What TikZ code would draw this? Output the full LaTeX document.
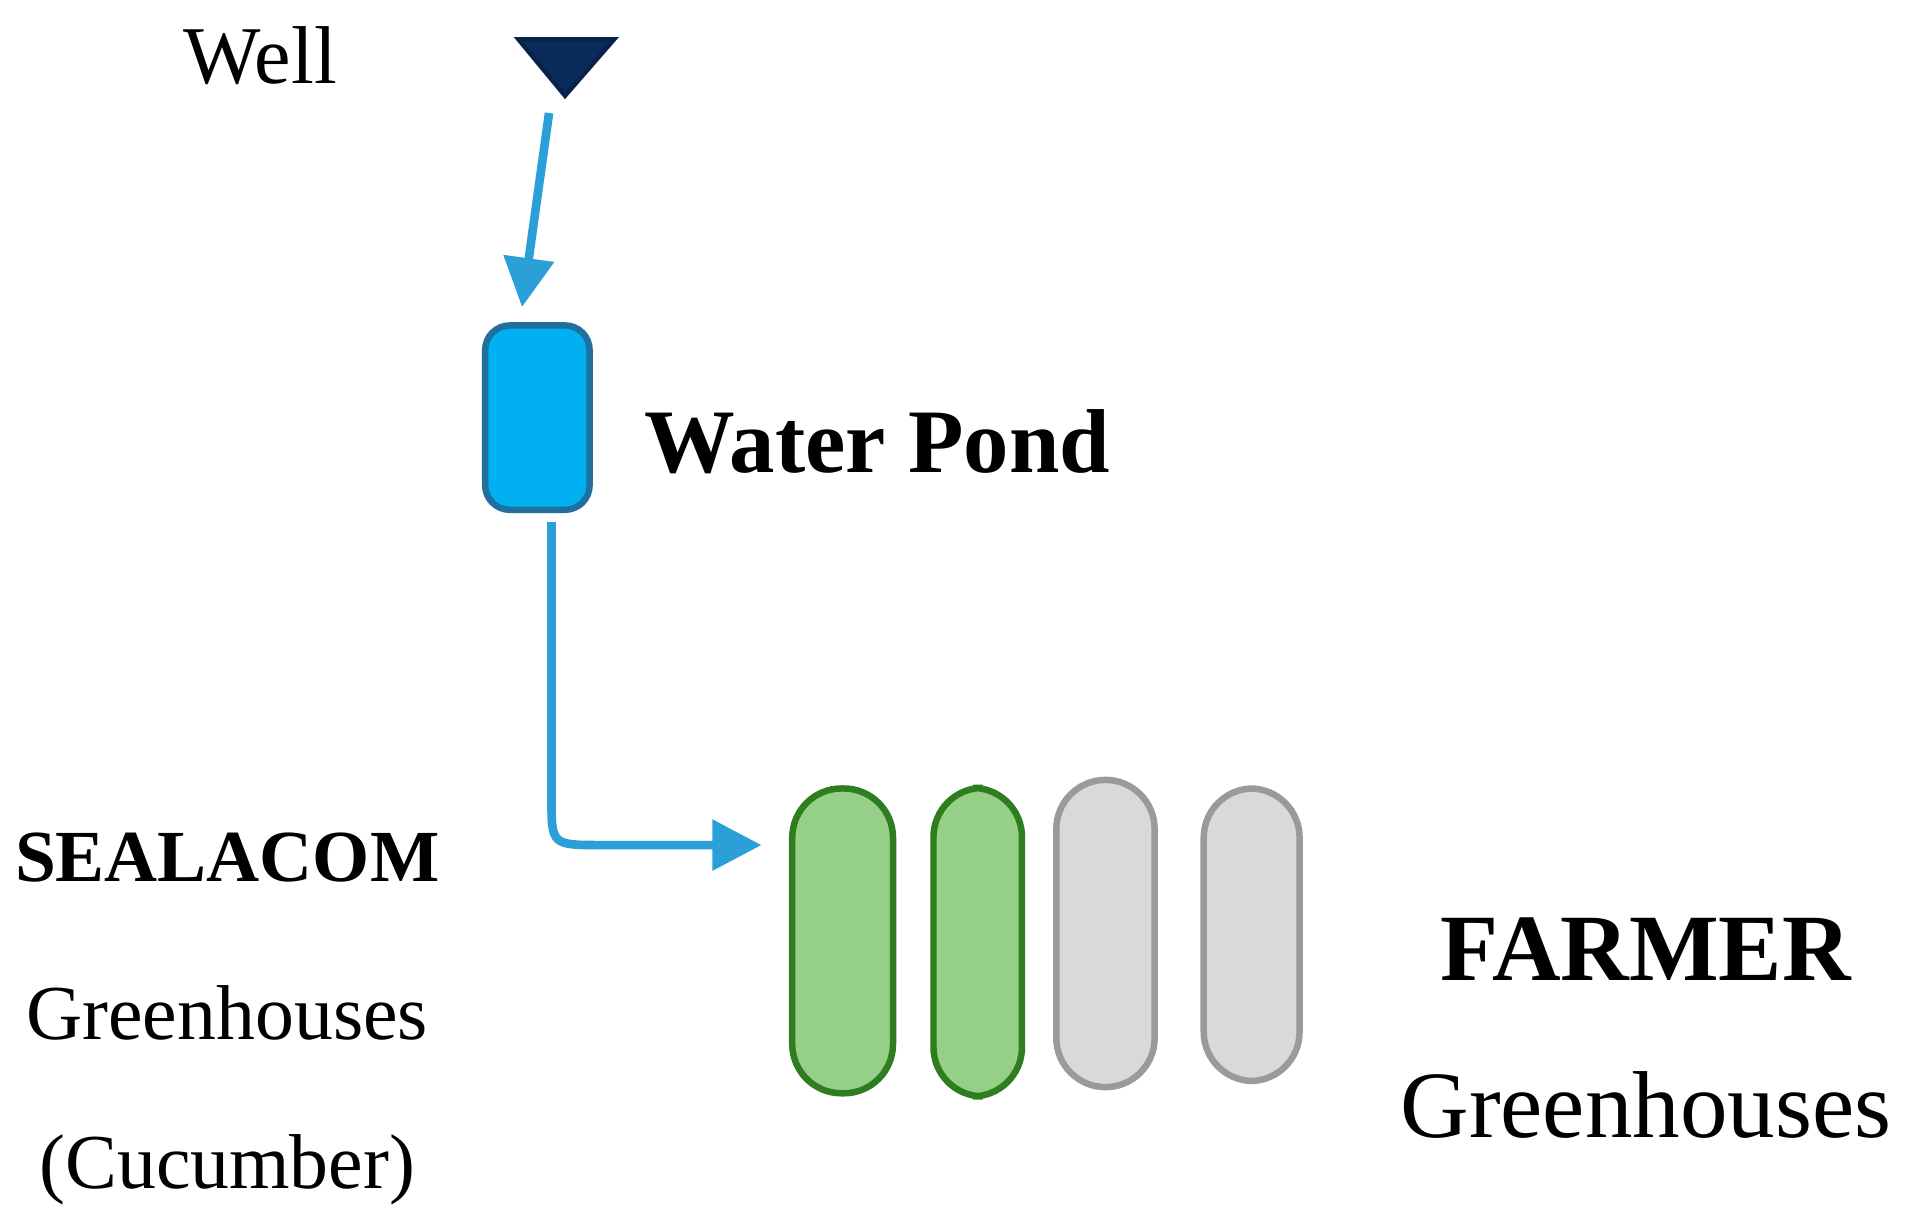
\documentclass[tikz,border=0pt]{standalone}
\usepackage{fontspec}
\setmainfont{Liberation Serif}
\usetikzlibrary{arrows.meta}
\definecolor{flowblue}{HTML}{2A9FD8}
\definecolor{pondblue}{HTML}{00B0F0}
\definecolor{pondedge}{HTML}{1F6F9F}
\definecolor{wellnavy}{HTML}{0B2A5C}
\definecolor{housegreen}{HTML}{96CF88}
\definecolor{greenedge}{HTML}{2E7D1F}
\definecolor{housegray}{HTML}{D9D9D9}
\definecolor{grayedge}{HTML}{9A9A9A}
\tikzset{
  flow/.style={flowblue, line width=2pt, -{Triangle[length=4mm,width=4mm]}},
  house/.style={rounded corners=4mm, line width=1.5pt},
  label/.style={font=\fontsize{18}{20}\selectfont},
}
\begin{document}
\begin{tikzpicture}[x=0.01cm,y=-0.01cm]
    \useasboundingbox (0,0) rectangle (1568,991);

    % Well and pond
    \node[font=\fontsize{19}{22}\selectfont] (well) at (212,45) {Well};
    \draw[fill=wellnavy, draw=wellnavy!80!black, line width=1pt]
        (422,32) -- (500,32) -- (460,78) -- cycle;
    \coordinate (wellout) at (447,92);
    \coordinate (pondin) at (425,250);
    \node[draw=pondedge, fill=pondblue, line width=1.5pt, rounded corners=2mm,
          minimum width=0.85cm, minimum height=1.5cm, inner sep=0pt] (pond) at (437.5,340) {};
    \node[anchor=west, font=\bfseries\fontsize{21}{26}\selectfont] (pondlabel) at (512,360) {Water Pond};
    \draw[flow] (wellout) -- (pondin);

    % Greenhouses
    \node[house, draw=greenedge, fill=housegreen, minimum width=0.82cm, minimum height=2.48cm] (g1) at (686,766) {};
    \node[house, draw=greenedge, fill=housegreen, minimum width=0.72cm, minimum height=2.51cm] (g2) at (796,767) {};
    \node[house, draw=grayedge, fill=housegray, minimum width=0.80cm, minimum height=2.50cm] (g3) at (900,760) {};
    \node[house, draw=grayedge, fill=housegray, minimum width=0.78cm, minimum height=2.38cm] (g4) at (1019,761) {};
    \coordinate (pondout) at (449,425);
    \coordinate (bend) at (449,650);
    \coordinate (housein) at (620,688);
    \draw[flow] (pondout) -- (bend) .. controls (449,688) .. (490,688) -- (housein);

    % Labels
    \node[font=\bfseries\fontsize{17}{20}\selectfont] (sealacom) at (185,698) {SEALACOM};
    \node[label] (sgh) at (185,825) {Greenhouses};
    \node[label] (cuc) at (185,952) {(Cucumber)};
    \node[font=\bfseries\fontsize{22}{26}\selectfont] (farmer) at (1340,773) {FARMER};
    \node[font=\fontsize{22}{26}\selectfont] (fgh) at (1340,900) {Greenhouses};
\end{tikzpicture}
\end{document}
